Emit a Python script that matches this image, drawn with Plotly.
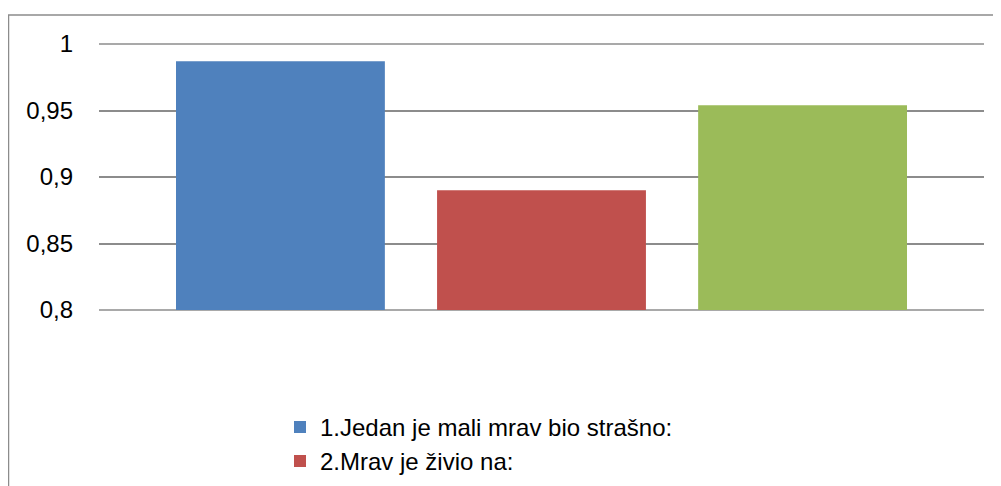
import plotly.graph_objects as go

categories = [""]
series_names = ["1.Jedan je mali mrav bio strašno:", "2.Mrav je živio na:", "3.Mrav je bio:"]
series_values = [0.987, 0.89, 0.954]
series_colors = ["#4F81BD", "#C0504D", "#9BBB59"]
legend_visible = [True, True, False]  # third entry lies below the visible canvas in the reference
tick_vals = [0.8, 0.85, 0.9, 0.95, 1.0]
tick_text = ["0,8", "0,85", "0,9", "0,95", "1"]

FONT = "Liberation Sans"
GRID = "#8c8c8c"

fig = go.Figure()
for name, val, col, lv in zip(series_names, series_values, series_colors, legend_visible):
    fig.add_trace(go.Bar(x=categories, y=[val], name=name, showlegend=lv,
                         marker=dict(color=col, line=dict(width=0))))

W, H = 1001, 486
L, R, T, B = 91, 25, 35.5, 184
pw = W - L - R
ph = H - T - B

def px_to_paper_x(px):
    return (px - L) / pw

def px_to_paper_y(py):
    return (H - B - py) / ph

shapes = [dict(type="path", xref="paper", yref="paper",
               path=f"M {px_to_paper_x(0.5)},{px_to_paper_y(500)} L {px_to_paper_x(0.5)},{px_to_paper_y(6.5)} L {px_to_paper_x(1010)},{px_to_paper_y(6.5)}",
               line=dict(color=GRID, width=1.5), layer="below")]
for yy in (0, 1):
    shapes.append(dict(type="line", xref="paper", yref="paper", x0=0, x1=1, y0=yy, y1=yy,
                       line=dict(color=GRID, width=1.6), layer="below"))

fig.update_layout(
    width=W, height=H,
    margin=dict(l=L, r=R, t=T, b=B, autoexpand=False),
    paper_bgcolor="white", plot_bgcolor="white",
    barmode="group", bargap=0.115, bargroupgap=0.2,
    font=dict(family=FONT, size=24, color="black"),
    xaxis=dict(showticklabels=False, showgrid=False, zeroline=False, showline=False, fixedrange=True),
    yaxis=dict(range=[0.8, 1.0], tickvals=tick_vals, ticktext=tick_text,
               showgrid=True, gridcolor=GRID, gridwidth=1.6,
               zeroline=False, showline=False, ticks="", ticklabelstandoff=25,
               tickfont=dict(family=FONT, size=24, color="black")),
    showlegend=True,
    legend=dict(orientation="v", x=px_to_paper_x(272), xanchor="left",
                y=px_to_paper_y(397), yanchor="top",
                font=dict(family=FONT, size=24, color="black"),
                bgcolor="rgba(0,0,0,0)", tracegroupgap=0, itemsizing="constant"),
    shapes=shapes,
)

fig.write_html("out.html")
